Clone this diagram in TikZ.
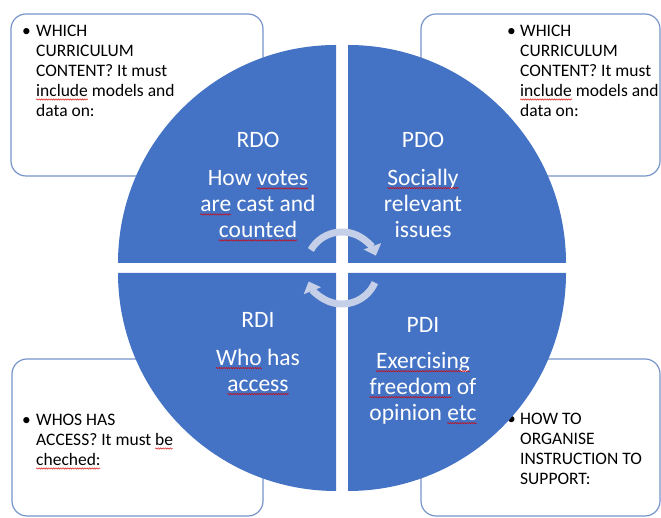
\documentclass[tikz,border=0pt]{standalone}
\usepackage{fontspec}
\setmainfont{Carlito}
\usepackage{tikz}
\usetikzlibrary{arrows.meta,positioning,decorations.pathmorphing}
\definecolor{quadblue}{RGB}{68,114,196}
\definecolor{boxline}{RGB}{118,148,202}
\definecolor{cyclegray}{RGB}{197,207,232}
\newsavebox{\spellbox}
\newcommand{\spell}[1]{\sbox{\spellbox}{#1}\rlap{\usebox{\spellbox}}\tikz[baseline=0pt]{%
        \useasboundingbox (0pt,0pt) rectangle (\wd\spellbox,0pt);
        \draw[red!85!black, line width=0.45pt, decorate, decoration={zigzag, amplitude=0.7pt, segment length=2.4pt}]
        (0pt,-3pt) -- (\wd\spellbox,-3pt);}}
\tikzset{%
        x=1pt,
        y=1pt,
        infobox/.style={draw=boxline, line width=1.2pt, fill=white, rounded corners=15pt},
        boxtext/.style={anchor=base west, inner sep=0pt, font=\fontsize{17.5}{20}\selectfont},
        quad/.style={fill=quadblue},
        title/.style={text=white, inner sep=0pt, font=\fontsize{23.5}{28}\selectfont},
        body/.style={text=white, inner sep=0pt, align=center, font=\fontsize{23.5}{26}\selectfont},
        cyclearrow/.style={draw=cyclegray, line width=7pt, -{Triangle[width=18pt,length=10pt]}}
}

\begin{document}
\begin{tikzpicture}
        \useasboundingbox (0,0) rectangle (661,518);
        \clip (0,0) rectangle (661,518);
        \draw[infobox] (11,342) rectangle (263,504);
        \draw[infobox] (421,342) rectangle (660,504);
        \draw[infobox] (12,2) rectangle (263,159);
        \draw[infobox] (421,2) rectangle (660,159);
        \node[boxtext] (tlt) at (22,481.5) {\begin{tabular}[t]{@{}l@{}l@{}}
                \makebox[14pt][l]{\textbullet} & WHICH\\
                & CURRICULUM\\
                & CONTENT? It must\\
                & \spell{include} models and\\
                & data on:\end{tabular}};
        \node[boxtext] (trt) at (507,481.5) {\begin{tabular}[t]{@{}l@{}l@{}}
                \makebox[13pt][l]{\textbullet} & WHICH\\
                & CURRICULUM\\
                & CONTENT? It must\\
                & \spell{include} models and\\
                & data on:\end{tabular}};
        \node[boxtext] (blt) at (22,92.5) {\begin{tabular}[t]{@{}l@{}l@{}}
                \makebox[14pt][l]{\textbullet} & WHOS HAS\\
                & ACCESS? It must \spell{be}\\
                & \spell{cheched:}\end{tabular}};
        \node[boxtext] (brt) at (507,93.5) {\begin{tabular}[t]{@{}l@{}l@{}}
                \makebox[13pt][l]{\textbullet} & HOW TO\\
                & ORGANISE\\
                & INSTRUCTION TO\\
                & SUPPORT:\end{tabular}};
        \fill[quad] (336,255) -- (118,255) arc[start angle=180, end angle=90, radius=218] -- cycle;
        \fill[quad] (348,255) -- (566,255) arc[start angle=0, end angle=90, radius=218] -- cycle;
        \fill[quad] (336,245) -- (118,245) arc[start angle=180, end angle=270, radius=218] -- cycle;
        \fill[quad] (348,245) -- (566,245) arc[start angle=0, end angle=-90, radius=218] -- cycle;
        \coordinate (hub) at (342,250);
        \draw[cyclearrow] ([shift={(150:36)}]hub) arc[start angle=150, end angle=20, radius=36];
        \draw[cyclearrow] ([shift={(-24:36)}]hub) arc[start angle=-24, end angle=-158, radius=36];
        \node[title] (rdo) at (258,378) {RDO};
        \node[body] (rdotext) at (258,314) {How \spell{votes}\\\spell{are} cast and\\\spell{counted}};
        \node[title] (pdo) at (423,378) {PDO};
        \node[body] (pdotext) at (423,315) {\spell{Socially}\\relevant\\issues};
        \node[title] (rdi) at (258,198) {RDI};
        \node[body] (rditext) at (258,148) {\spell{Who} has\\\spell{access}};
        \node[title] (pdi) at (423,193) {PDI};
        \node[body] (pditext) at (423,130) {\spell{Exercising}\\\spell{freedom} of\\opinion \spell{etc}};
\end{tikzpicture}
\end{document}
